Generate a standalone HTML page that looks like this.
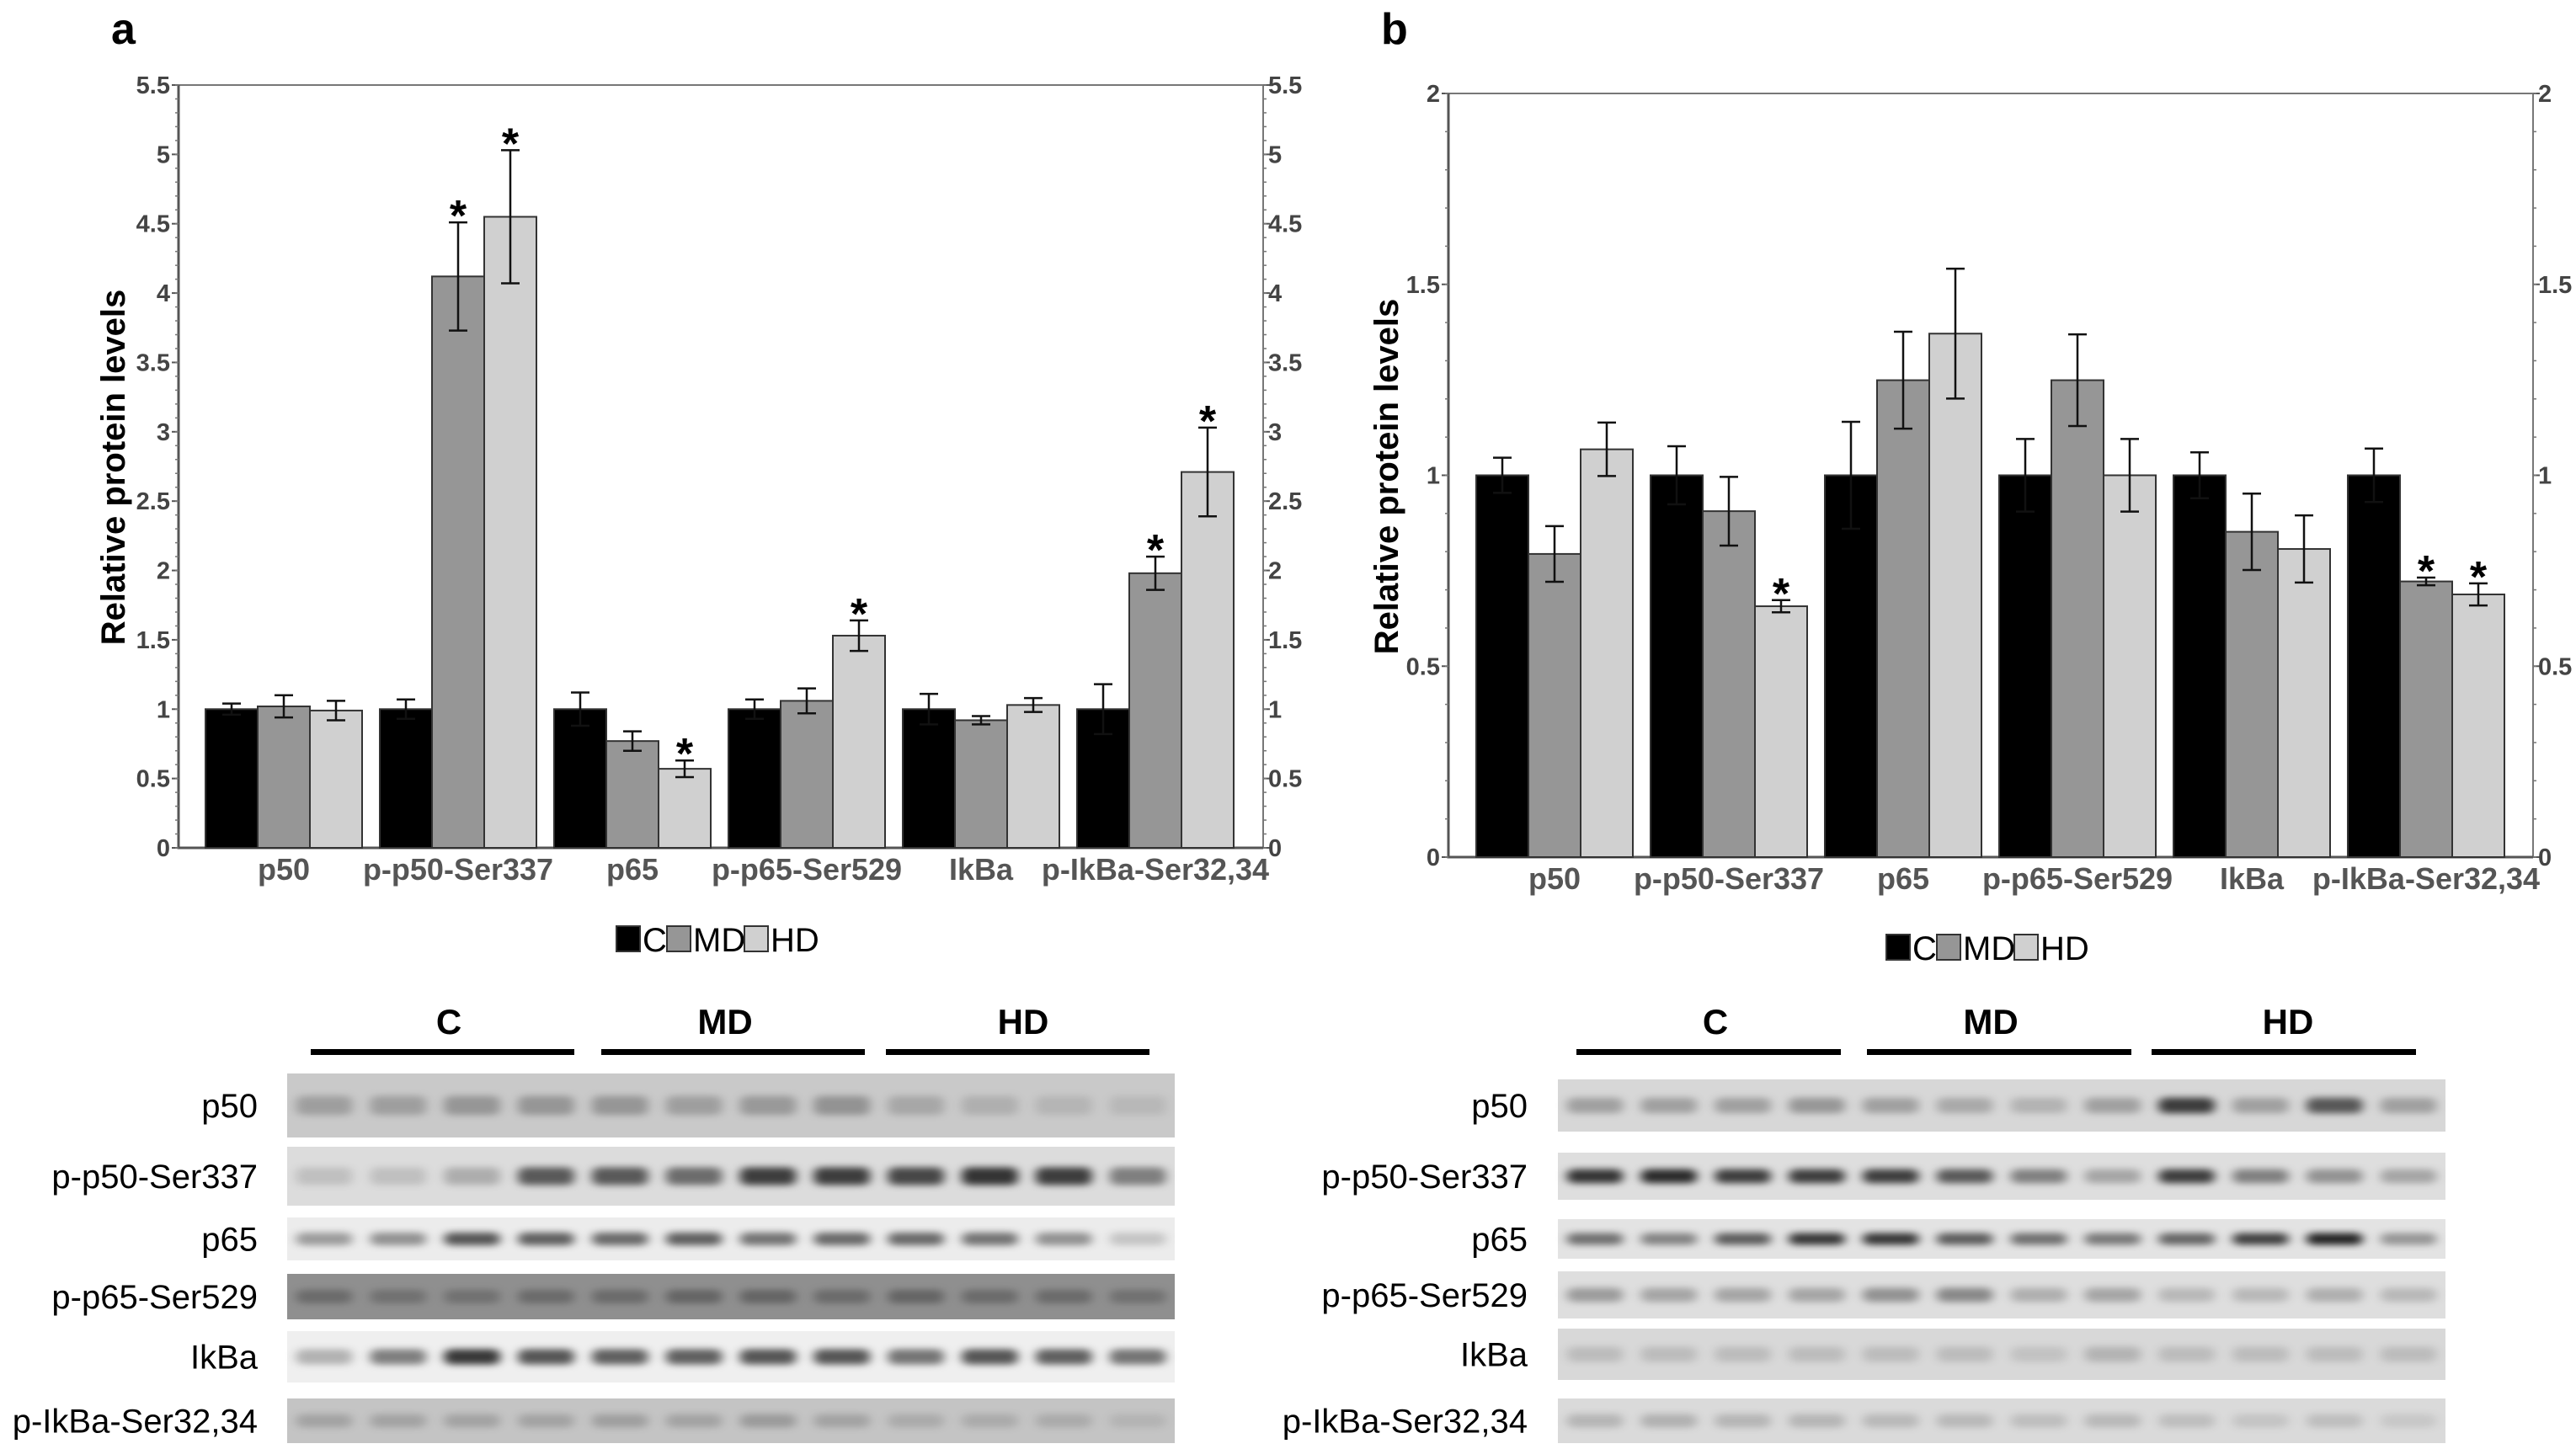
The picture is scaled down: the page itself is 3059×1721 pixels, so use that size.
<!DOCTYPE html>
<html><head><meta charset="utf-8"><style>
html,body{margin:0;padding:0;background:#fff;}
svg{display:block;}
text{font-family:"Liberation Sans Narrow","Liberation Sans",sans-serif;}
</style></head><body>
<svg id="fig" width="3059" height="1721" viewBox="0 0 3059 1721" xmlns="http://www.w3.org/2000/svg">
<defs><filter id="blur" x="-20%" y="-50%" width="140%" height="200%"><feGaussianBlur stdDeviation="6 4"/></filter></defs>
</svg>
<script>
// ---- data (panel a) ----
const categories = ["p50","p-p50-Ser337","p65","p-p65-Ser529","IkBa","p-IkBa-Ser32,34"];
const seriesNames = ["C","MD","HD"];
const aC = [1,1,1,1,1,1];
const aCerr = [0.04,0.07,0.12,0.07,0.11,0.18];
const aMD = [1.02,4.12,0.77,1.06,0.92,1.98];
const aMDerr = [0.08,0.39,0.07,0.09,0.03,0.12];
const aHD = [0.99,4.55,0.57,1.53,1.03,2.71];
const aHDerr = [0.07,0.48,0.06,0.11,0.05,0.32];
const aStarMD = [0,1,0,0,0,1];
const aStarHD = [0,1,1,1,0,1];
const aTicks = ["0","0.5","1","1.5","2","2.5","3","3.5","4","4.5","5","5.5"];
// ---- data (panel b) ----
const bC = [1,1,1,1,1,1];
const bCerr = [0.046,0.076,0.14,0.095,0.06,0.07];
const bMD = [0.794,0.906,1.249,1.249,0.852,0.722];
const bMDerr = [0.073,0.09,0.127,0.12,0.1,0.01];
const bHD = [1.068,0.657,1.371,1.0,0.807,0.688];
const bHDerr = [0.07,0.016,0.17,0.095,0.088,0.029];
const bStarMD = [0,0,0,0,0,1];
const bStarHD = [0,1,0,0,0,1];
const bTicks = ["0","0.5","1","1.5","2"];
// ---- blots ----
const blotLabels = ["p50","p-p50-Ser337","p65","p-p65-Ser529","IkBa","p-IkBa-Ser32,34"];
const aBlotBg = ["#c9c9c9","#dcdcdc","#ececec","#8f8f8f","#efefef","#c4c4c4"];
const aBands = [
 [.25,.25,.3,.3,.3,.25,.28,.32,.2,.15,.12,.1],
 [.15,.15,.25,.7,.7,.6,.85,.85,.8,.9,.85,.5],
 [.4,.45,.75,.7,.65,.7,.6,.65,.65,.6,.45,.2],
 [.3,.25,.25,.3,.3,.35,.35,.3,.35,.3,.3,.25],
 [.3,.55,.9,.75,.7,.7,.75,.75,.6,.75,.7,.6],
 [.2,.2,.2,.2,.22,.2,.25,.2,.15,.15,.15,.1]];
const bBlotBg = ["#d7d7d7","#dedede","#e3e3e3","#dedede","#d8d8d8","#dadada"];
const bBands = [
 [.3,.3,.3,.35,.3,.25,.2,.3,.85,.3,.7,.3],
 [.9,.95,.85,.85,.85,.7,.5,.3,.85,.5,.4,.3],
 [.6,.5,.7,.9,.9,.7,.6,.55,.65,.85,1,.4],
 [.35,.3,.3,.3,.4,.45,.25,.3,.2,.2,.25,.2],
 [.15,.15,.15,.15,.15,.15,.12,.2,.15,.15,.15,.15],
 [.2,.22,.2,.2,.18,.18,.15,.18,.15,.12,.15,.1]];

const NS="http://www.w3.org/2000/svg";
const svg=document.getElementById('fig');
function mk(tag,attrs,parent,txt){const e=document.createElementNS(NS,tag);for(const k in attrs)e.setAttribute(k,attrs[k]);if(txt!==undefined)e.textContent=txt;(parent||svg).appendChild(e);return e;}

function drawChart(p){
  const g=mk('g',{});
  
  
  const y=v=>p.y0-(v/p.max)*(p.y0-p.yTop);
  const xBar=(ci,si)=>p.firstX+ci*p.groupStep+si*p.barW;
  const fr=mk('path',{d:`M${p.left},${p.yTop}H${p.right}V${p.y0}`,fill:'none',stroke:'#777','stroke-width':2},g);
  
  
  const ax=mk('path',{d:`M${p.left},${p.yTop}V${p.y0}H${p.right}`,fill:'none',stroke:'#555','stroke-width':3},g);
  
  
  p.ticks.forEach(t=>{
    const v=parseFloat(t),yy=y(v);
    mk('line',{x1:p.left-8,x2:p.left,y1:yy,y2:yy,stroke:'#555','stroke-width':2},g);
    mk('line',{x1:p.right,x2:p.right+8,y1:yy,y2:yy,stroke:'#555','stroke-width':2},g);
    const l=mk('text',{x:p.left-10,y:yy+10,'text-anchor':'end','font-size':29,'font-weight':'bold',fill:'#444'},g,t);
    
    
    const r=mk('text',{x:p.right+6,y:yy+10,'font-size':29,'font-weight':'bold',fill:'#444'},g,t);
    
    
  });
  for(let v=0;v<=p.max+1e-9;v+=p.minor){const yy=y(v);
    mk('line',{x1:p.left-4,x2:p.left,y1:yy,y2:yy,stroke:'#777','stroke-width':1.5},g);
    mk('line',{x1:p.right,x2:p.right+4,y1:yy,y2:yy,stroke:'#777','stroke-width':1.5},g);}
  const fills=['#000','#969696','#d0d0d0'];
  const vals=[p.c,p.md,p.hd],errs=[p.cE,p.mdE,p.hdE],stars=[null,p.sMD,p.sHD];
  categories.forEach((cat,ci)=>{
    for(let si=0;si<3;si++){
      const x=xBar(ci,si),v=vals[si][ci],top=y(v);
      const b=mk('rect',{x:x,y:top,width:p.barW,height:p.y0-top,fill:fills[si],stroke:'#333','stroke-width':2},g);
      
      
      const cx=x+p.barW/2,e=errs[si][ci],y1=y(v+e),y2=y(v-e);
      const eb=mk('path',{d:`M${cx},${y1}V${y2}M${cx-11},${y1}H${cx+11}M${cx-11},${y2}H${cx+11}`,stroke:'#111','stroke-width':2.5,fill:'none'},g);
      
      
      if(stars[si]&&stars[si][ci]){
        const s=mk('text',{x:cx,y:y1+10,'text-anchor':'middle','font-size':52,'font-weight':'bold',fill:'#000','font-family':'Liberation Sans'},g,'*');
        
        
      }
    }
    const cl=mk('text',{x:p.firstX+ci*p.groupStep+1.5*p.barW,y:p.y0+38,'text-anchor':'middle','font-size':36,'font-weight':'bold',fill:'#555'},g,cat);
    
    
  });
  const yt=mk('text',{x:p.titleX,y:p.titleY,'text-anchor':'middle','font-size':40,'font-weight':'bold',fill:'#000','font-family':'Liberation Sans',transform:`rotate(-90 ${p.titleX} ${p.titleY})`},g,'Relative protein levels');
  
  
  const pl=mk('text',{x:p.labelX,y:52,'font-size':52,'font-weight':'bold',fill:'#000','font-family':'Liberation Sans'},g,p.label);
  
  
  let lx=p.legX;const ly=p.legY;
  seriesNames.forEach((n,si)=>{
    const sw=mk('rect',{x:lx,y:ly-15,width:28,height:30,fill:fills[si],stroke:'#333','stroke-width':2},g);
    
    
    const t=mk('text',{x:lx+31,y:ly+15,'font-size':40,fill:'#000'},g,n);
    
    
    lx+=31+(n.length===1?26:58)+3;
  });
}

drawChart({name:'chart-a',label:'a',labelX:132,left:212,right:1500,yTop:101,y0:1007,max:5.5,minor:0.1,ticks:aTicks,
  firstX:244,groupStep:207,barW:62,c:aC,cE:aCerr,md:aMD,mdE:aMDerr,hd:aHD,hdE:aHDerr,sMD:aStarMD,sHD:aStarHD,
  titleX:148,titleY:555,legX:732,legY:1115});
drawChart({name:'chart-b',label:'b',labelX:1640,left:1720,right:3008,yTop:111,y0:1018,max:2,minor:0.1,ticks:bTicks,
  firstX:1753,groupStep:207,barW:62,c:bC,cE:bCerr,md:bMD,mdE:bMDerr,hd:bHD,hdE:bHDerr,sMD:bStarMD,sHD:bStarHD,
  titleX:1660,titleY:566,legX:2240,legY:1125});

function drawBlots(p){
  const g=mk('g',{});
  
  
  const groups=["C","MD","HD"];
  groups.forEach((gn,i)=>{
    const t=mk('text',{x:p.gx[i],y:1228,'text-anchor':'middle','font-size':42,'font-weight':'bold',fill:'#000'},g,gn);
    
    
    const l=mk('rect',{x:p.lx[i],y:1246,width:p.lw,height:7,fill:'#000'},g);
    
    
  });
  const w=p.bx2-p.bx1,lane=w/12;
  p.rows.forEach((r,ri)=>{
    const bg=mk('rect',{x:p.bx1,y:r[0],width:w,height:r[1]-r[0],fill:p.bg[ri]},g);
    
    
    const h=r[1]-r[0];
    p.bands[ri].forEach((d,li)=>{
      const band=mk('rect',{x:p.bx1+li*lane+lane*0.12,y:r[0]+h*0.35,width:lane*0.76,height:h*0.3,rx:8,fill:'#000','fill-opacity':d*0.85,filter:'url(#blur)'},g);
      
      
    });
    const lab=mk('text',{x:p.labX,y:(r[0]+r[1])/2+14,'text-anchor':'end','font-size':40,fill:'#000'},g,blotLabels[ri]);
    
    
  });
}
drawBlots({name:'blots-a',gx:[533,861,1215],lx:[369,714,1052],lw:313,bx1:341,bx2:1395,labX:306,bg:aBlotBg,bands:aBands,
  rows:[[1275,1351],[1362,1432],[1446,1497],[1513,1567],[1581,1642],[1661,1714]]});
drawBlots({name:'blots-b',gx:[2037,2364,2717],lx:[1872,2217,2555],lw:314,bx1:1850,bx2:2904,labX:1814,bg:bBlotBg,bands:bBands,
  rows:[[1282,1344],[1369,1425],[1448,1495],[1510,1566],[1578,1639],[1661,1714]]});
</script>
</body></html>
